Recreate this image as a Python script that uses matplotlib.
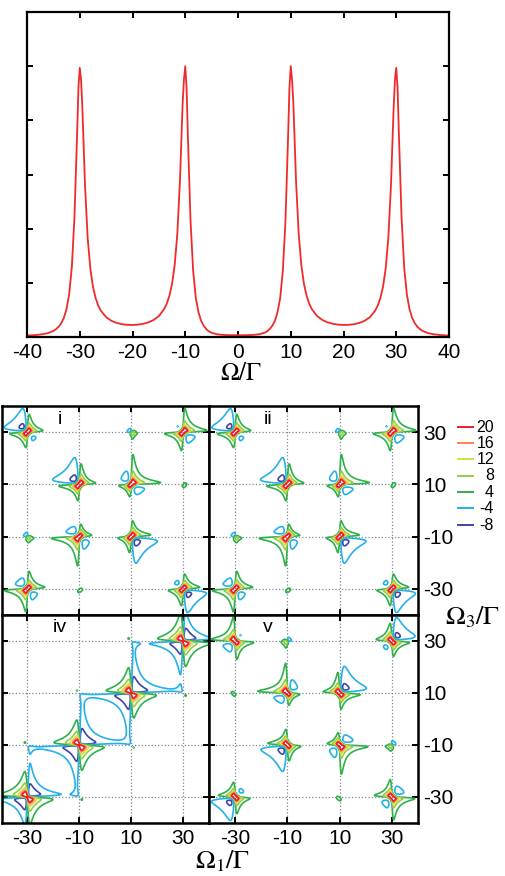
import numpy as np
import matplotlib
matplotlib.use("Agg")
import matplotlib.pyplot as plt

plt.rcParams["font.family"] = ["Liberation Sans", "DejaVu Sans"]
plt.rcParams["mathtext.fontset"] = "stix"
plt.rcParams["axes.unicode_minus"] = False

# TOP PANEL: linear spectrum
omega = [-40, -39, -38, -37, -36, -35, -34.5, -34, -33.5, -33, -32.5, -32, -31.5, -31,
         -30.5, -30.25, -30, -29.75, -29.5, -29, -28.5, -28, -27.5, -27, -26.5, -26,
         -25, -24, -23, -22, -21, -20, -19, -18, -17, -16, -15, -14, -13.5, -13,
         -12.5, -12, -11.5, -11, -10.5, -10.25, -10, -9.75, -9.5, -9, -8.5, -8,
         -7.5, -7, -6.5, -6, -5.5, -5, -4, -3, -2, -1, 0,
         1, 2, 3, 4, 5, 5.5, 6, 6.5, 7, 7.5, 8, 8.5, 9, 9.5, 9.75, 10, 10.25,
         10.5, 11, 11.5, 12, 12.5, 13, 13.5, 14, 15, 16, 17, 18, 19, 20, 21, 22,
         23, 24, 25, 26, 26.5, 27, 27.5, 28, 28.5, 29, 29.5, 29.75, 30, 30.25, 30.5,
         31, 31.5, 32, 32.5, 33, 33.5, 34, 34.5, 35, 36, 37, 38, 39, 40]
signal = [0.028, 0.032, 0.04, 0.052, 0.072, 0.112, 0.144, 0.19, 0.256, 0.357, 0.519, 0.794, 1.29, 2.22,
          3.75, 4.6, 4.97, 4.75, 4.22, 2.80, 1.83, 1.27, 0.931, 0.72, 0.582, 0.486,
          0.366, 0.299, 0.26, 0.236, 0.225, 0.222, 0.228, 0.243, 0.27, 0.314, 0.387, 0.515, 0.616, 0.762,
          0.982, 1.33, 1.91, 2.89, 4.30, 4.75, 5.0, 4.6, 3.71, 2.15, 1.22, 0.724,
          0.459, 0.30, 0.207, 0.144, 0.103, 0.078, 0.05, 0.04, 0.035, 0.033, 0.032,
          0.033, 0.035, 0.04, 0.05, 0.078, 0.103, 0.144, 0.207, 0.30, 0.459, 0.724, 1.22, 2.15, 3.71, 4.6, 5.0, 4.75,
          4.30, 2.89, 1.91, 1.33, 0.982, 0.762, 0.616, 0.515, 0.387, 0.314, 0.27, 0.243, 0.228, 0.222, 0.225, 0.236,
          0.26, 0.299, 0.366, 0.486, 0.582, 0.72, 0.931, 1.27, 1.83, 2.80, 4.22, 4.75, 4.97, 4.6, 3.75,
          2.22, 1.29, 0.794, 0.519, 0.357, 0.256, 0.19, 0.144, 0.112, 0.072, 0.052, 0.04, 0.032, 0.028]

# BOTTOM PANELS: peak positions (Omega1, Omega3) and weights of the 2D maps
# panel i (ii is the same map, v is its mirror image in Omega1)
big_w1 = [-30, 30, -10, 10, -10, 10, -30, 30]
big_w3 = [30, 30, 10, 10, -10, -10, -30, -30]
big_core = [20, 20, 20, 20, 20, 20, 20, 20]
big_pos_ur = [38, 42, 42, 44, 32, 40, 36, 36]
big_pos_ll = [38, 38, 42, 32, 44, 32, 40, 36]
big_neg_ul = [110, 62, 100, 80, 80, 62, 80, 62]
big_neg_lr = [62, 80, 62, 80, 75, 100, 75, 110]
small_w1 = [10, 30, -30, -10]
small_w3 = [30, 10, -10, -30]
small_odd = [15, 15, 15, 15]
small_even = [2.5, 2.5, 2.5, 2.5]
gamma_pos = 0.7
gamma_neg = 1.8
gamma_small = 1.3

# panel iv: diagonal peaks
diag_w = [-30, -10, 10, 30]
diag_core = [26, 26, 26, 26]
diag_pos = [88, 88, 88, 88]
diag_neg = [84, 100, 100, 84]
gamma_iv = 1.0

levels = [-8, -4, 4, 8, 12, 16, 20]
level_colors = ["#3c44a8", "#25b0ea", "#2fb04a", "#93cf45", "#d9dc4c", "#ff8158", "#f0192c"]
grid_ticks = [-30, -10, 10, 30]

W, H = 505, 876


def px_rect(x0, y0, x1, y1):
    return [x0 / W, 1 - y1 / H, (x1 - x0) / W, (y1 - y0) / H]


def half(t, g):
    # one-sided dispersive tail of a Lorentzian
    return np.clip(t, 0, None) / (t * t + g * g)


def core(x, y, g):
    return g * g / ((x * x + g * g) * (y * y + g * g))


def field_i(o1, o3):
    gp, gn, gs = gamma_pos, gamma_neg, gamma_small
    z = np.zeros_like(o1)
    for k in range(len(big_w1)):
        x, y = o1 - big_w1[k], o3 - big_w3[k]
        z += big_core[k] * core(x, y, gp)
        z += big_pos_ur[k] * half(x, gp) * half(y, gp)
        z += big_pos_ll[k] * half(-x, gp) * half(-y, gp)
        z -= big_neg_ul[k] * half(-x, gn) * half(y, gn)
        z -= big_neg_lr[k] * half(x, gn) * half(-y, gn)
    for p, q, a, b in zip(small_w1, small_w3, small_odd, small_even):
        x, y = o1 - p, o3 - q
        l2 = (gs ** 2 / (x * x + gs * gs)) ** 2 * (gs ** 2 / (y * y + gs * gs)) ** 2
        z += (a * (x - y) / gs + b) * l2
    return z


def field_iv(o1, o3):
    g = gamma_iv
    z = np.zeros_like(o1)
    for p, ac, ap, an in zip(diag_w, diag_core, diag_pos, diag_neg):
        x, y = o1 - p, o3 - p
        z += ac * core(x, y, g)
        z += ap * (half(x, g) * half(-y, g) + half(-x, g) * half(y, g))
        z -= an * (half(x, g) * half(y, g) + half(-x, g) * half(-y, g))
    return z


grid = np.linspace(-40, 40, 801)
O1, O3 = np.meshgrid(grid, grid)
maps = {
    "i": field_i(O1, O3),
    "ii": field_i(O1, O3),
    "iv": field_iv(O1, O3),
    "v": field_i(-O1, O3),
}

fig = plt.figure(figsize=(W / 100, H / 100), dpi=100)

# top spectrum
ax = fig.add_axes(px_rect(27, 12, 449, 337))
ax.plot(omega, signal, color="#f02a2a", lw=1.3)
ax.set_xlim(-40, 40)
ax.set_ylim(0, 6)
ax.set_xticks(range(-40, 41, 10))
ax.set_yticks(range(0, 7))
ax.set_yticklabels([])
ax.tick_params(direction="in", length=4, width=1.4, top=True, right=True,
               labelsize=15, pad=4)
for s in ax.spines.values():
    s.set_linewidth(1.6)
fig.text(241 / W, 1 - 373 / H, r"$\Omega/\Gamma$", fontsize=18, ha="center", va="center")

# 2D maps
panels = [("i", (1.5, 406, 209, 615)), ("ii", (209, 406, 418, 615)),
          ("iv", (1.5, 615, 209, 823)), ("v", (209, 615, 418, 823))]
for name, rect in panels:
    ax = fig.add_axes(px_rect(*rect))
    ax.contour(O1, O3, maps[name], levels=levels, colors=level_colors, linewidths=1.2)
    ax.set_xlim(-40, 40)
    ax.set_ylim(-40, 40)
    ax.set_xticks(grid_ticks)
    ax.set_yticks(grid_ticks)
    ax.grid(True, linestyle=":", color="#7f8796", linewidth=0.9)
    ax.set_axisbelow(True)
    right = name in ("ii", "v")
    bottom = name in ("iv", "v")
    ax.tick_params(direction="in", length=4, width=1.4, top=True, right=True,
                   labelleft=False, labelright=right, labelbottom=bottom,
                   labelsize=15, pad=4)
    for s in ax.spines.values():
        s.set_linewidth(1.8)
    ax.text(-17.5, 35, name, fontsize=14, ha="center", va="center")

fig.text(472 / W, 1 - 617 / H, r"$\Omega_3/\Gamma$", fontsize=19, ha="center", va="center")
fig.text(222 / W, 1 - 861 / H, r"$\Omega_1/\Gamma$", fontsize=19, ha="center", va="center")

# legend for contour levels
lax = fig.add_axes(px_rect(452, 418, 500, 535))
lax.set_xlim(452, 500)
lax.set_ylim(535, 418)
lax.axis("off")
rows = [427.3, 443.3, 459.3, 476, 492.3, 508.3, 525]
for lev, col, yy in zip(levels[::-1], level_colors[::-1], rows):
    lax.plot([458, 473], [yy, yy], color=col, lw=1.4)
    lax.text(494, yy, str(lev), fontsize=11.5, ha="right", va="center")

fig.savefig("out.png", dpi=100)
